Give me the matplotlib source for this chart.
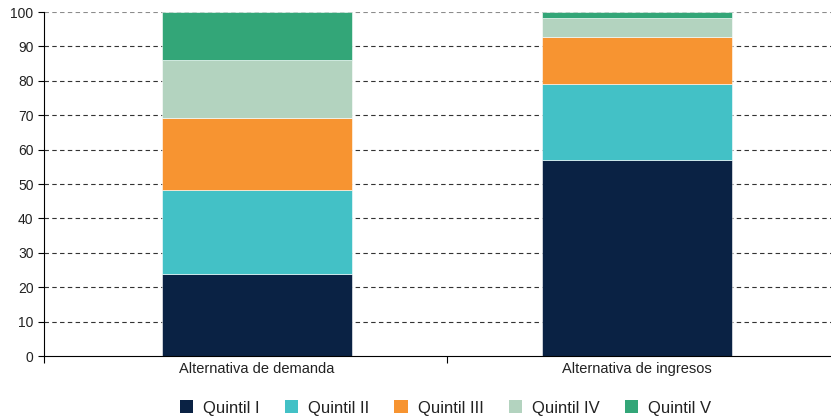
import numpy as np
import matplotlib.pyplot as plt
from matplotlib.patches import Patch

plt.rcParams['font.family'] = ['Liberation Sans', 'DejaVu Sans']

categories = ['Alternativa de demanda', 'Alternativa de ingresos']
series = ['Quintil I', 'Quintil II', 'Quintil III', 'Quintil IV', 'Quintil V']
values = {
    'Quintil I': [23.7, 57.0],
    'Quintil II': [24.5, 22.2],
    'Quintil III': [20.9, 13.5],
    'Quintil IV': [16.9, 5.6],
    'Quintil V': [14.0, 1.7],
}
colors = ['#0a2244', '#43c1c6', '#f79431', '#b3d3bf', '#33a678']

fig = plt.figure(figsize=(8.31, 4.16), dpi=100)
ax = fig.add_axes([44 / 831, 60 / 416, 1 - 44 / 831, (356 - 12) / 416])

x = np.arange(len(categories))
bottom = np.zeros(len(categories))
for name, col in zip(series, colors):
    v = np.array(values[name])
    ax.bar(x, v, 0.5, bottom=bottom, color=col, edgecolor='white', linewidth=0.4, zorder=2)
    bottom += v

ax.set_ylim(0, 100)
ax.set_xlim(-0.5605, 1.51)
ax.set_yticks(np.arange(0, 101, 10))
ax.tick_params(axis='y', labelsize=10, length=4.5, width=0.8, pad=3, labelcolor='#222222')
for y in range(10, 101, 10):
    c = '#8c8c8c' if y == 100 else '#333333'
    ax.axhline(y, color=c, linestyle=(0, (4, 3)), linewidth=0.8, zorder=1)

ax.set_xticks(x)
ax.set_xticklabels(categories, fontsize=10.5, color='#222222')
ax.tick_params(axis='x', length=0, pad=4)
ax.set_xticks([-0.5605, 0.5], minor=True)
ax.tick_params(axis='x', which='minor', length=5, width=0.8)

for s in ['top', 'right']:
    ax.spines[s].set_visible(False)
ax.spines['left'].set_linewidth(0.8)
ax.spines['bottom'].set_linewidth(0.8)

handles = [Patch(facecolor=c, label=n) for n, c in zip(series, colors)]
fig.legend(handles=handles, loc='lower center', bbox_to_anchor=(0.536, -0.035), ncol=5,
           frameon=False, fontsize=12, handlelength=0.8, handleheight=0.8,
           handletextpad=0.6, columnspacing=1.5, labelcolor='#222222')

fig.savefig('out.png', dpi=100)
